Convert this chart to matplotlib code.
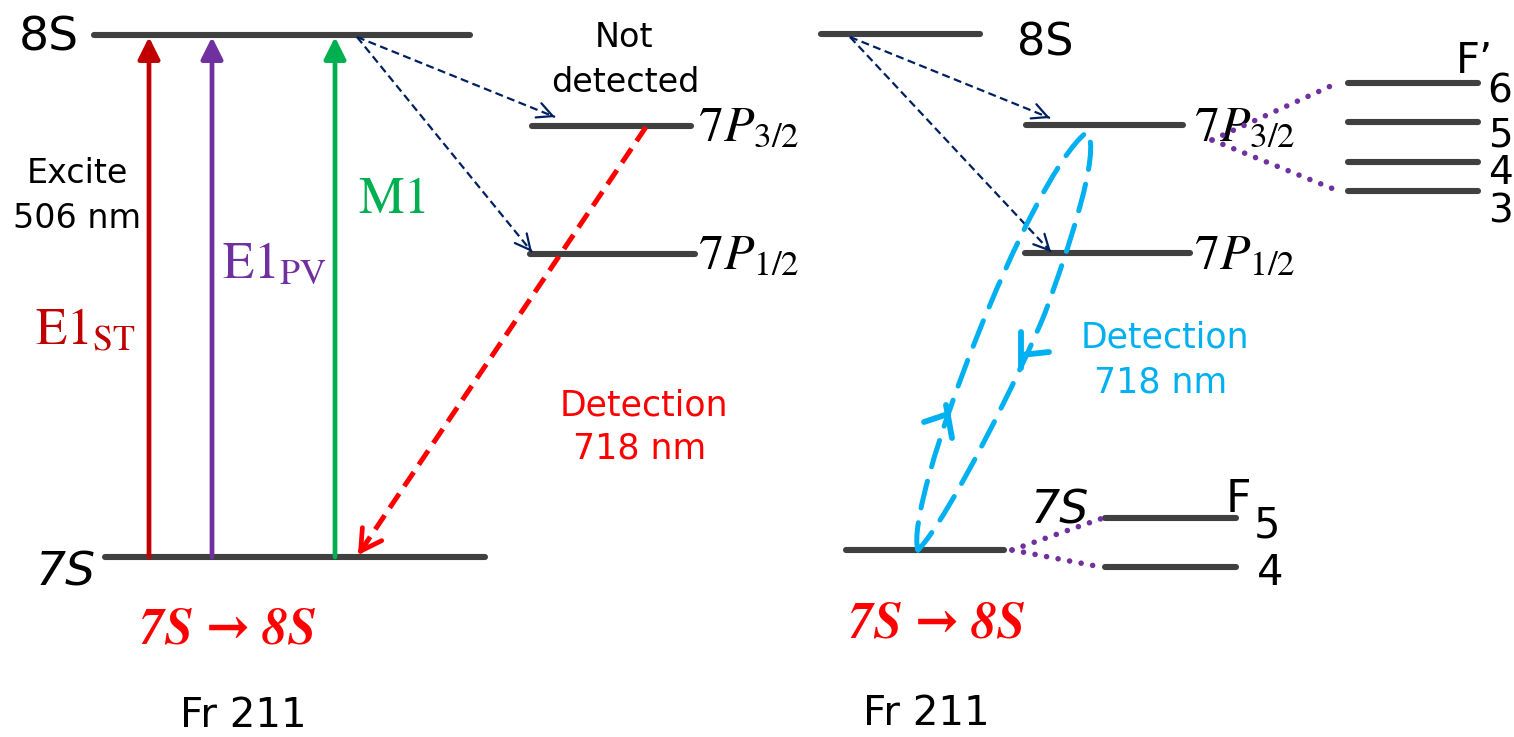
import matplotlib
matplotlib.use('Agg')
import matplotlib.pyplot as plt
from matplotlib.path import Path
from matplotlib.patches import PathPatch

plt.rcParams['mathtext.fontset'] = 'stix'
plt.rcParams['font.family'] = ['DejaVu Sans']

W, H = 1514, 737

# ---------------- data (pixel space of the diagram) ----------------
level_names = ['8S', '7S', '7P3/2', '7P1/2', '8S', '7P3/2', '7P1/2', '7S',
               "F'=6", "F'=5", "F'=4", "F'=3", 'F=5', 'F=4']
level_x0 = [94, 105, 532, 530, 821, 1026, 1025, 846, 1348, 1348, 1348, 1348, 1105, 1105]
level_x1 = [470, 485, 691, 695, 980, 1183, 1190, 1004, 1478, 1478, 1478, 1478, 1236, 1236]
level_y = [35, 557, 126, 254, 34, 125, 253, 550, 83, 122, 162, 191, 518, 567]

excite_names = ['E1_ST', 'E1_PV', 'M1']
excite_x = [149, 212, 335]
excite_colors = ['#C00000', '#7030A0', '#00B050']
excite_ybot = [557, 557, 557]
excite_ytop = [35, 35, 35]

decay_x0 = [357, 357, 850, 850]
decay_y0 = [37, 37, 37, 37]
decay_x1 = [555, 532, 1050, 1051]
decay_y1 = [117, 252, 118, 252]

detect_x = [646, 358]
detect_y = [127, 555]

hf_x0 = [1212, 1212, 1012, 1012]
hf_y0 = [140, 140, 550, 550]
hf_x1 = [1333, 1336, 1103, 1101]
hf_y1 = [85, 190, 518, 567]

# cyan detection loop (Bezier vertices)
loop_x = [918, 903, 1030, 1087, 1102, 1068, 1045, 1022, 948, 918]
loop_y = [550, 505, 175, 132, 150, 250, 313, 370, 520, 550]
# cyan hand-drawn arrowhead strokes
tick_x0 = [924, 946, 1021, 1021]
tick_y0 = [422, 405, 332, 355]
tick_x1 = [948, 952, 1021, 1049]
tick_y1 = [414, 438, 368, 352]

# hyperfine labels
fp_labels = ['6', '5', '4', '3']
fp_label_y = [102, 146, 184, 222]
f_labels = ['5', '4']
f_label_x = [1267, 1270]
f_label_y = [538, 585]

BLACK = '#404040'
NAVY = '#002060'
RED = '#FF0000'
CYAN = '#00B0F0'
PURPLE = '#7030A0'

fig = plt.figure(figsize=(W / 100, H / 100), dpi=100)
ax = fig.add_axes([0, 0, 1, 1])
ax.set_xlim(0, W)
ax.set_ylim(H, 0)
ax.axis('off')

# levels
for x0, x1, y in zip(level_x0, level_x1, level_y):
    ax.plot([x0, x1], [y, y], color=BLACK, lw=4.4, solid_capstyle='round', zorder=3)

# excitation arrows
for x, c, yb, yt in zip(excite_x, excite_colors, excite_ybot, excite_ytop):
    ax.annotate('', xy=(x, yt + 2), xytext=(x, yb),
                arrowprops=dict(arrowstyle='-|>,head_length=1.1,head_width=0.55',
                                color=c, lw=3.4, mutation_scale=12,
                                shrinkA=0, shrinkB=0), zorder=4)

# non-detected decays (navy dashed)
for x0, y0, x1, y1 in zip(decay_x0, decay_y0, decay_x1, decay_y1):
    ax.plot([x0, x1], [y0, y1], color=NAVY, lw=1.6, ls=(0, (3.6, 2.0)), zorder=4)
    dx, dy = x1 - x0, y1 - y0
    n = (dx ** 2 + dy ** 2) ** 0.5
    ax.annotate('', xy=(x1, y1), xytext=(x1 - 4 * dx / n, y1 - 4 * dy / n),
                arrowprops=dict(arrowstyle='->,head_length=1.0,head_width=0.5',
                                color=NAVY, lw=1.6, mutation_scale=11,
                                shrinkA=0, shrinkB=0), zorder=4)

# red detection decay
ax.plot(detect_x, detect_y, color=RED, lw=3.6, ls=(0, (3.4, 1.8)), zorder=5)
dx, dy = detect_x[1] - detect_x[0], detect_y[1] - detect_y[0]
n = (dx ** 2 + dy ** 2) ** 0.5
ax.annotate('', xy=(detect_x[1], detect_y[1]),
            xytext=(detect_x[1] - 6 * dx / n, detect_y[1] - 6 * dy / n),
            arrowprops=dict(arrowstyle='->,head_length=1.05,head_width=0.6',
                            color=RED, lw=3.4, mutation_scale=14,
                            shrinkA=0, shrinkB=0), zorder=5)

# hyperfine dotted connectors
for x0, y0, x1, y1 in zip(hf_x0, hf_y0, hf_x1, hf_y1):
    ax.plot([x0, x1], [y0, y1], color=PURPLE, lw=4.0, ls=(0, (0.01, 2.1)),
            dash_capstyle='round', zorder=8)

# cyan detection loop
codes = [Path.MOVETO, Path.CURVE4, Path.CURVE4, Path.CURVE4,
         Path.CURVE4, Path.CURVE4, Path.CURVE4,
         Path.CURVE4, Path.CURVE4, Path.CURVE4]
loop = Path(list(zip(loop_x, loop_y)), codes)
ax.add_patch(PathPatch(loop, fill=False, edgecolor=CYAN, lw=3.6,
                       ls=(0, (5.5, 3.0)), capstyle='round', zorder=5))
for x0, y0, x1, y1 in zip(tick_x0, tick_y0, tick_x1, tick_y1):
    ax.plot([x0, x1], [y0, y1], color=CYAN, lw=4.2, solid_capstyle='round', zorder=5)

# ---------------- text ----------------
def T(x, y, s, size, color='black', ha='center', va='baseline', **kw):
    ax.text(x, y, s, fontsize=size, color=color, ha=ha, va=va, zorder=7, **kw)

# left panel
T(49, 50, '8S', 34)
T(66, 585, '7S', 34, style='italic')
T(77, 183, 'Excite', 24)
T(77, 228, '506 nm', 24)
T(35, 345, r'$\mathrm{E1}_{\mathrm{ST}}$', 37, color='#C00000', ha='left')
T(222, 278, r'$\mathrm{E1}_{\mathrm{PV}}$', 37, color='#7030A0', ha='left')
T(358, 213, r'$\mathrm{M1}$', 37, color='#00B050', ha='left')
T(624, 47, 'Not', 24)
T(625, 92, 'detected', 24)
T(698, 140, r'$7P_{3/2}$', 36, ha='left')
T(698, 268, r'$7P_{1/2}$', 36, ha='left')
T(644, 415, 'Detection', 25, color=RED)
T(640, 458, '718 nm', 25, color=RED)
T(228, 643, '7S → 8S', 37, color=RED, weight='bold', style='italic',
  family=['STIXGeneral', 'DejaVu Serif'])
T(243, 727, 'Fr 211', 29)

# right panel
T(1045, 55, '8S', 32)
T(1194, 140, r'$7P_{3/2}$', 36, ha='left')
T(1194, 268, r'$7P_{1/2}$', 36, ha='left')
T(1474, 73, "F’", 30)
for s, y in zip(fp_labels, fp_label_y):
    T(1500, y, s, 28)
T(1165, 347, 'Detection', 25, color=CYAN)
T(1161, 392, '718 nm', 25, color=CYAN)
T(1060, 523, '7S', 33, style='italic')
T(1238, 512, 'F', 32)
for s, x, y in zip(f_labels, f_label_x, f_label_y):
    T(x, y, s, 30)
T(937, 637, '7S → 8S', 37, color=RED, weight='bold', style='italic',
  family=['STIXGeneral', 'DejaVu Serif'])
T(926, 725, 'Fr 211', 29)

fig.savefig('out.png', dpi=100)
